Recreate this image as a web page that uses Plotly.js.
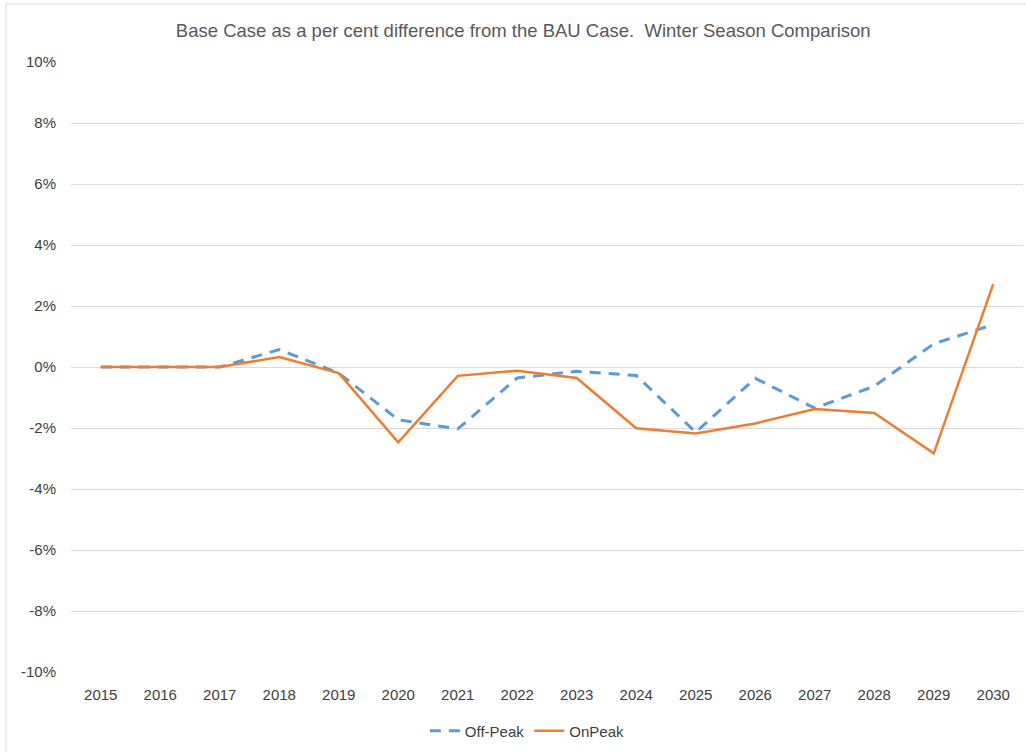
<!DOCTYPE html>
<html>
<head>
<meta charset="utf-8">
<script src="https://cdn.plot.ly/plotly-3.0.1.min.js"></script>
<style>html,body{margin:0;padding:0;background:#fff;}#chart{width:1026px;height:752px;}</style>
</head>
<body>
<div id="chart"></div>
<script>
const years = ['2015','2016','2017','2018','2019','2020','2021','2022','2023','2024','2025','2026','2027','2028','2029','2030'];
const offPeak = [0, 0, 0, 0.57, -0.2, -1.73, -2.03, -0.36, -0.14, -0.28, -2.14, -0.37, -1.35, -0.63, 0.76, 1.39];
const onPeak = [0, 0, 0, 0.33, -0.2, -2.47, -0.29, -0.12, -0.36, -2.01, -2.18, -1.85, -1.38, -1.51, -2.83, 2.72];
const yTicks = [-10, -8, -6, -4, -2, 0, 2, 4, 6, 8, 10];

const font = "Liberation Sans, Arial, sans-serif";
const traces = [
  {x: years, y: offPeak, name: 'Off-Peak', type: 'scatter', mode: 'lines',
   line: {color: '#5B9BD5', width: 3, dash: '11px,8px'}},
  {x: years, y: onPeak, name: 'OnPeak', type: 'scatter', mode: 'lines',
   line: {color: '#ED7D31', width: 2.5}}
];
const layout = {
  width: 1026, height: 752,
  margin: {l: 71, r: 3, t: 62, b: 80, autoexpand: false},
  paper_bgcolor: '#fff', plot_bgcolor: '#fff',
  font: {family: font, color: '#595959', size: 14},
  title: {text: 'Base Case as a per cent difference from the BAU Case.  Winter Season Comparison',
          font: {family: font, size: 18.5, color: '#595959'},
          x: 0.51, xref: 'container', xanchor: 'center', y: 0.96, yref: 'container', yanchor: 'middle'},
  xaxis: {type: 'category', range: [-0.5, 15.5], showgrid: false, zeroline: false,
          showline: false, ticks: '', ticklabelstandoff: 12,
          tickfont: {size: 15, color: '#404040'}, fixedrange: true},
  yaxis: {range: [-10, 10], tickvals: yTicks, ticktext: yTicks.map(v => v + '%'),
          showgrid: true, gridcolor: '#d9d9d9', gridwidth: 1, zeroline: false, showline: false,
          ticks: '', ticklabelstandoff: 14, tickfont: {size: 15, color: '#404040'}, fixedrange: true},
  showlegend: true,
  legend: {orientation: 'h', x: 0.514, xref: 'container', xanchor: 'center',
           y: 0.028, yref: 'container', yanchor: 'middle',
           font: {size: 15, color: '#404040'}},
  shapes: [
    {type: 'rect', xref: 'paper', yref: 'paper', x0: -0.0683, x1: 1.2, y0: -0.3, y1: 1.0951,
     line: {color: '#d9d9d9', width: 1}}
  ]
};
Plotly.newPlot('chart', traces, layout, {displayModeBar: false, staticPlot: true});
</script>
</body>
</html>
